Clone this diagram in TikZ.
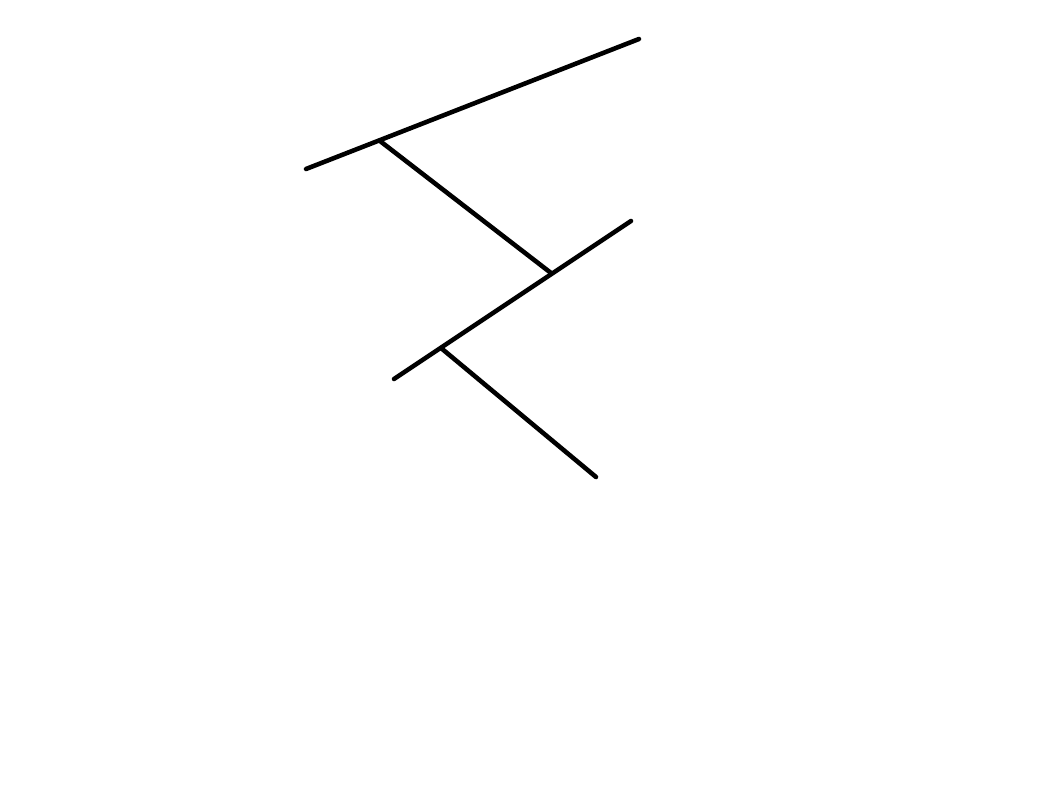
\documentclass[tikz,border=0pt]{standalone}
\usepackage{tikz}

\tikzset{stroke/.style={line width=1.3pt,line cap=round}}

\begin{document}
\begin{tikzpicture}[x=1cm,y=1cm]
	%Frame
	\useasboundingbox (0,0) rectangle (10.59,7.99);
	%Points
	\coordinate (topL) at (3.06,6.30);
	\coordinate (topR) at (6.39,7.60);
	\coordinate (joinA) at (3.80,6.58);
	\coordinate (joinB) at (5.51,5.26);
	\coordinate (midR) at (6.31,5.78);
	\coordinate (midL) at (3.94,4.20);
	\coordinate (joinC) at (4.41,4.51);
	\coordinate (tail) at (5.96,3.22);
	%Lines
	\draw [stroke] (topL) to (topR);
	\draw [stroke] (joinA) to (joinB);
	\draw [stroke] (midR) to (midL);
	\draw [stroke] (joinC) to (tail);
\end{tikzpicture}
\end{document}
